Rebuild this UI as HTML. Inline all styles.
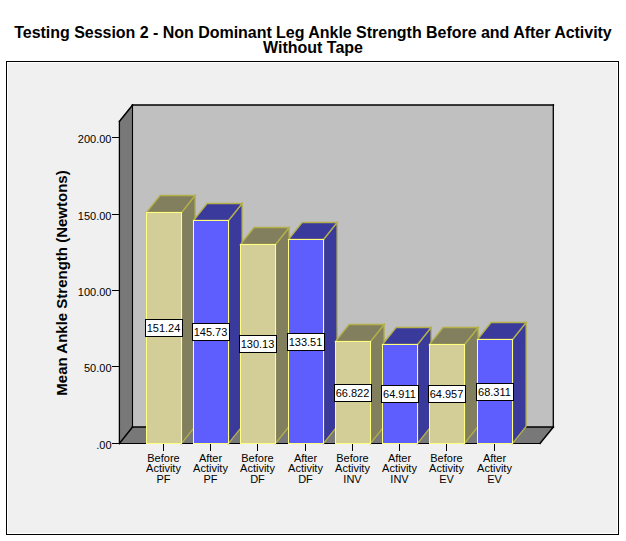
<!DOCTYPE html>
<html><head><meta charset="utf-8"><style>
html,body{margin:0;padding:0;background:#fff;width:626px;height:541px;overflow:hidden;position:relative}
</style></head><body>
<svg width="626" height="541" viewBox="0 0 626 541" style="position:absolute;left:0;top:0">
<rect x="6.5" y="61.5" width="612" height="473" fill="#f0f0f0" stroke="#000" shape-rendering="crispEdges"/>
<rect x="7.5" y="62.5" width="610" height="471" fill="none" stroke="#fff" shape-rendering="crispEdges"/>
<polygon points="119,121 132.5,105 132.5,427 119,443.5" fill="#787878"/>
<polygon points="119,443.5 132.5,427 553.5,427 540,443.5" fill="#787878"/>
<rect x="132.5" y="105" width="421" height="322" fill="#c0c0c0"/>
<g stroke="#000" fill="none" stroke-linecap="square">
<line x1="132.5" y1="105" x2="553.3" y2="105" stroke-width="1.7"/>
<line x1="132.5" y1="427" x2="553.3" y2="427" stroke-width="1.7"/>
<line x1="132.5" y1="105" x2="132.5" y2="427" stroke-width="1.1"/>
<line x1="553.3" y1="105" x2="553.3" y2="427" stroke-width="1.3"/>
<line x1="119.4" y1="121.5" x2="119.4" y2="443.5" stroke-width="1.3"/>
<line x1="119.4" y1="443.5" x2="540" y2="443.5" stroke-width="1.1"/>
<line x1="119.4" y1="121.5" x2="132.5" y2="105" stroke-width="1.5"/>
<line x1="119.4" y1="443.5" x2="132.5" y2="427" stroke-width="1.5"/>
<line x1="540" y1="443.5" x2="553.3" y2="427" stroke-width="1.5"/>
</g>
<line x1="112" y1="137.5" x2="119" y2="137.5" stroke="#000" shape-rendering="crispEdges"/>
<text x="111.5" y="143" text-anchor="end" font-family="Liberation Sans" font-size="11">200.00</text>
<line x1="112" y1="214.5" x2="119" y2="214.5" stroke="#000" shape-rendering="crispEdges"/>
<text x="111.5" y="220" text-anchor="end" font-family="Liberation Sans" font-size="11">150.00</text>
<line x1="112" y1="290.5" x2="119" y2="290.5" stroke="#000" shape-rendering="crispEdges"/>
<text x="111.5" y="296" text-anchor="end" font-family="Liberation Sans" font-size="11">100.00</text>
<line x1="112" y1="366.5" x2="119" y2="366.5" stroke="#000" shape-rendering="crispEdges"/>
<text x="111.5" y="372" text-anchor="end" font-family="Liberation Sans" font-size="11">50.00</text>
<line x1="112" y1="443.5" x2="119" y2="443.5" stroke="#000" shape-rendering="crispEdges"/>
<text x="111.5" y="449" text-anchor="end" font-family="Liberation Sans" font-size="11">.00</text>
<polygon points="181.5,212.5 195.1,195.5 195.1,426.5 181.5,443.5" fill="#827f5e" stroke="#b3b04a" stroke-width="1.3"/>
<polygon points="146.5,212.5 160.1,195.5 195.1,195.5 181.5,212.5" fill="#827f5e" stroke="#b3b04a" stroke-width="1.3"/>
<rect x="146.5" y="212.5" width="35" height="231" fill="#d3ce97" stroke="#ffff80" shape-rendering="crispEdges"/>
<line x1="163.5" y1="444" x2="163.5" y2="451" stroke="#000" shape-rendering="crispEdges"/>
<rect x="145.5" y="319.5" width="37" height="17" fill="#fff" stroke="#000" shape-rendering="crispEdges"/>
<text x="163.5" y="332" text-anchor="middle" font-family="Liberation Sans" font-size="11">151.24</text>
<text x="163.5" y="462.0" text-anchor="middle" font-family="Liberation Sans" font-size="11">Before</text>
<text x="163.5" y="472.4" text-anchor="middle" font-family="Liberation Sans" font-size="11">Activity</text>
<text x="163.5" y="482.8" text-anchor="middle" font-family="Liberation Sans" font-size="11">PF</text>
<polygon points="228.5,220.5 242.1,203.5 242.1,426.5 228.5,443.5" fill="#3a3a9c" stroke="#b3b04a" stroke-width="1.3"/>
<polygon points="193.5,220.5 207.1,203.5 242.1,203.5 228.5,220.5" fill="#3a3a9c" stroke="#b3b04a" stroke-width="1.3"/>
<rect x="193.5" y="220.5" width="35" height="223" fill="#5e5eff" stroke="#ffff80" shape-rendering="crispEdges"/>
<line x1="210.5" y1="444" x2="210.5" y2="451" stroke="#000" shape-rendering="crispEdges"/>
<rect x="192.5" y="323.5" width="37" height="17" fill="#fff" stroke="#000" shape-rendering="crispEdges"/>
<text x="210.5" y="336" text-anchor="middle" font-family="Liberation Sans" font-size="11">145.73</text>
<text x="210.5" y="462.0" text-anchor="middle" font-family="Liberation Sans" font-size="11">After</text>
<text x="210.5" y="472.4" text-anchor="middle" font-family="Liberation Sans" font-size="11">Activity</text>
<text x="210.5" y="482.8" text-anchor="middle" font-family="Liberation Sans" font-size="11">PF</text>
<polygon points="275.5,244.5 289.1,227.5 289.1,426.5 275.5,443.5" fill="#827f5e" stroke="#b3b04a" stroke-width="1.3"/>
<polygon points="240.5,244.5 254.1,227.5 289.1,227.5 275.5,244.5" fill="#827f5e" stroke="#b3b04a" stroke-width="1.3"/>
<rect x="240.5" y="244.5" width="35" height="199" fill="#d3ce97" stroke="#ffff80" shape-rendering="crispEdges"/>
<line x1="257.5" y1="444" x2="257.5" y2="451" stroke="#000" shape-rendering="crispEdges"/>
<rect x="239.5" y="335.5" width="37" height="17" fill="#fff" stroke="#000" shape-rendering="crispEdges"/>
<text x="257.5" y="348" text-anchor="middle" font-family="Liberation Sans" font-size="11">130.13</text>
<text x="257.5" y="462.0" text-anchor="middle" font-family="Liberation Sans" font-size="11">Before</text>
<text x="257.5" y="472.4" text-anchor="middle" font-family="Liberation Sans" font-size="11">Activity</text>
<text x="257.5" y="482.8" text-anchor="middle" font-family="Liberation Sans" font-size="11">DF</text>
<polygon points="323.5,239.5 337.1,222.5 337.1,426.5 323.5,443.5" fill="#3a3a9c" stroke="#b3b04a" stroke-width="1.3"/>
<polygon points="288.5,239.5 302.1,222.5 337.1,222.5 323.5,239.5" fill="#3a3a9c" stroke="#b3b04a" stroke-width="1.3"/>
<rect x="288.5" y="239.5" width="35" height="204" fill="#5e5eff" stroke="#ffff80" shape-rendering="crispEdges"/>
<line x1="305.5" y1="444" x2="305.5" y2="451" stroke="#000" shape-rendering="crispEdges"/>
<rect x="287.5" y="333.5" width="37" height="17" fill="#fff" stroke="#000" shape-rendering="crispEdges"/>
<text x="305.5" y="346" text-anchor="middle" font-family="Liberation Sans" font-size="11">133.51</text>
<text x="305.5" y="462.0" text-anchor="middle" font-family="Liberation Sans" font-size="11">After</text>
<text x="305.5" y="472.4" text-anchor="middle" font-family="Liberation Sans" font-size="11">Activity</text>
<text x="305.5" y="482.8" text-anchor="middle" font-family="Liberation Sans" font-size="11">DF</text>
<polygon points="370.5,341.5 384.1,324.5 384.1,426.5 370.5,443.5" fill="#827f5e" stroke="#b3b04a" stroke-width="1.3"/>
<polygon points="335.5,341.5 349.1,324.5 384.1,324.5 370.5,341.5" fill="#827f5e" stroke="#b3b04a" stroke-width="1.3"/>
<rect x="335.5" y="341.5" width="35" height="102" fill="#d3ce97" stroke="#ffff80" shape-rendering="crispEdges"/>
<line x1="352.5" y1="444" x2="352.5" y2="451" stroke="#000" shape-rendering="crispEdges"/>
<rect x="334.5" y="384.5" width="37" height="17" fill="#fff" stroke="#000" shape-rendering="crispEdges"/>
<text x="352.5" y="397" text-anchor="middle" font-family="Liberation Sans" font-size="11">66.822</text>
<text x="352.5" y="462.0" text-anchor="middle" font-family="Liberation Sans" font-size="11">Before</text>
<text x="352.5" y="472.4" text-anchor="middle" font-family="Liberation Sans" font-size="11">Activity</text>
<text x="352.5" y="482.8" text-anchor="middle" font-family="Liberation Sans" font-size="11">INV</text>
<polygon points="417.5,344.5 431.1,327.5 431.1,426.5 417.5,443.5" fill="#3a3a9c" stroke="#b3b04a" stroke-width="1.3"/>
<polygon points="382.5,344.5 396.1,327.5 431.1,327.5 417.5,344.5" fill="#3a3a9c" stroke="#b3b04a" stroke-width="1.3"/>
<rect x="382.5" y="344.5" width="35" height="99" fill="#5e5eff" stroke="#ffff80" shape-rendering="crispEdges"/>
<line x1="399.5" y1="444" x2="399.5" y2="451" stroke="#000" shape-rendering="crispEdges"/>
<rect x="381.5" y="385.5" width="37" height="17" fill="#fff" stroke="#000" shape-rendering="crispEdges"/>
<text x="399.5" y="398" text-anchor="middle" font-family="Liberation Sans" font-size="11">64.911</text>
<text x="399.5" y="462.0" text-anchor="middle" font-family="Liberation Sans" font-size="11">After</text>
<text x="399.5" y="472.4" text-anchor="middle" font-family="Liberation Sans" font-size="11">Activity</text>
<text x="399.5" y="482.8" text-anchor="middle" font-family="Liberation Sans" font-size="11">INV</text>
<polygon points="464.5,344.5 478.1,327.5 478.1,426.5 464.5,443.5" fill="#827f5e" stroke="#b3b04a" stroke-width="1.3"/>
<polygon points="429.5,344.5 443.1,327.5 478.1,327.5 464.5,344.5" fill="#827f5e" stroke="#b3b04a" stroke-width="1.3"/>
<rect x="429.5" y="344.5" width="35" height="99" fill="#d3ce97" stroke="#ffff80" shape-rendering="crispEdges"/>
<line x1="446.5" y1="444" x2="446.5" y2="451" stroke="#000" shape-rendering="crispEdges"/>
<rect x="428.5" y="385.5" width="37" height="17" fill="#fff" stroke="#000" shape-rendering="crispEdges"/>
<text x="446.5" y="398" text-anchor="middle" font-family="Liberation Sans" font-size="11">64.957</text>
<text x="446.5" y="462.0" text-anchor="middle" font-family="Liberation Sans" font-size="11">Before</text>
<text x="446.5" y="472.4" text-anchor="middle" font-family="Liberation Sans" font-size="11">Activity</text>
<text x="446.5" y="482.8" text-anchor="middle" font-family="Liberation Sans" font-size="11">EV</text>
<polygon points="512.5,339.5 526.1,322.5 526.1,426.5 512.5,443.5" fill="#3a3a9c" stroke="#b3b04a" stroke-width="1.3"/>
<polygon points="477.5,339.5 491.1,322.5 526.1,322.5 512.5,339.5" fill="#3a3a9c" stroke="#b3b04a" stroke-width="1.3"/>
<rect x="477.5" y="339.5" width="35" height="104" fill="#5e5eff" stroke="#ffff80" shape-rendering="crispEdges"/>
<line x1="494.5" y1="444" x2="494.5" y2="451" stroke="#000" shape-rendering="crispEdges"/>
<rect x="476.5" y="383.5" width="37" height="17" fill="#fff" stroke="#000" shape-rendering="crispEdges"/>
<text x="494.5" y="396" text-anchor="middle" font-family="Liberation Sans" font-size="11">68.311</text>
<text x="494.5" y="462.0" text-anchor="middle" font-family="Liberation Sans" font-size="11">After</text>
<text x="494.5" y="472.4" text-anchor="middle" font-family="Liberation Sans" font-size="11">Activity</text>
<text x="494.5" y="482.8" text-anchor="middle" font-family="Liberation Sans" font-size="11">EV</text>
<text transform="translate(67,283) rotate(-90)" text-anchor="middle" font-family="Liberation Sans" font-weight="bold" font-size="15">Mean Ankle Strength (Newtons)</text>
<text x="313" y="38" text-anchor="middle" font-family="Liberation Sans" font-weight="bold" font-size="16" letter-spacing="-0.03">Testing Session 2 - Non Dominant Leg Ankle Strength Before and After Activity</text>
<text x="313" y="53" text-anchor="middle" font-family="Liberation Sans" font-weight="bold" font-size="16">Without Tape</text>
</svg>
</body></html>
